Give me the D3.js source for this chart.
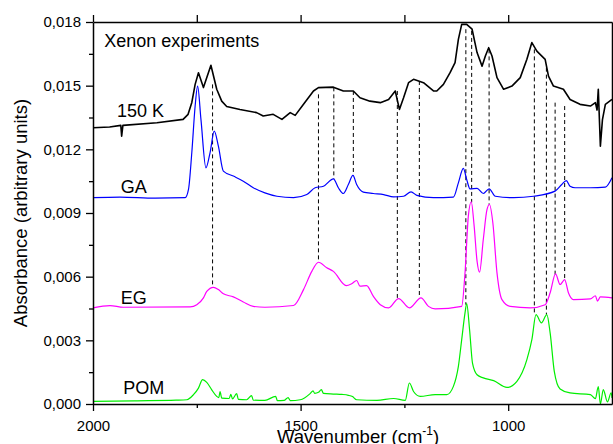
<!DOCTYPE html>
<html>
<head>
<meta charset="utf-8">
<script src="https://cdn.jsdelivr.net/npm/d3@7"></script>
<style>
  body { margin: 0; background: #fff; }
  svg { font-family: "Liberation Sans", Arial, sans-serif; }
</style>
</head>
<body>
<svg width="613" height="444"></svg>
<script>
// spectra: [wavenumber (cm-1), absorbance]
const spec150K = [[2000,0.01302],[1960,0.01305],[1933,0.01313],[1931,0.01262],[1928,0.01313],[1846,0.01325],[1783,0.01341],[1771,0.01365],[1762,0.01421],[1754,0.01506],[1746,0.01561],[1734,0.01491],[1716,0.01596],[1702,0.01483],[1690,0.01427],[1678,0.01402],[1646,0.01388],[1606,0.01373],[1590,0.01357],[1566,0.01365],[1545,0.01341],[1525,0.01373],[1513,0.0136],[1493,0.01412],[1469,0.01475],[1457,0.01491],[1421,0.01493],[1397,0.01475],[1373,0.01475],[1357,0.01443],[1333,0.01427],[1308,0.0142],[1288,0.01435],[1272,0.01475],[1262,0.01388],[1252,0.01443],[1240,0.01514],[1228,0.0153],[1204,0.01514],[1180,0.01475],[1172,0.01475],[1156,0.01506],[1140,0.01561],[1128,0.01609],[1120,0.01718],[1112,0.01789],[1100,0.01789],[1087,0.01766],[1075,0.01656],[1063,0.01592],[1055,0.0164],[1047,0.01679],[1039,0.0164],[1027,0.01538],[1011,0.01483],[991,0.01498],[971,0.01538],[955,0.01624],[943,0.01703],[931,0.01663],[911,0.01624],[903,0.01545],[891,0.01498],[867,0.01483],[851,0.01435],[827,0.01412],[802,0.01404],[790,0.0142],[786,0.01385],[783,0.01483],[778,0.01215],[773,0.0134],[766,0.01412],[750,0.01435]]

const specGA = [[2000,0.00972],[1935,0.00975],[1850,0.0097],[1778,0.00972],[1770,0.01011],[1762,0.01185],[1754,0.01404],[1748,0.01498],[1740,0.01341],[1728,0.01113],[1718,0.01185],[1708,0.01286],[1698,0.01215],[1686,0.01097],[1662,0.01074],[1638,0.0105],[1614,0.01019],[1586,0.00995],[1557,0.00979],[1517,0.00972],[1485,0.00987],[1465,0.01019],[1445,0.01026],[1421,0.01061],[1409,0.01019],[1397,0.00992],[1385,0.01034],[1374,0.01077],[1365,0.01034],[1349,0.00998],[1325,0.00992],[1300,0.00987],[1276,0.00976],[1252,0.00979],[1234,0.01],[1220,0.00983],[1180,0.00972],[1132,0.00975],[1120,0.01042],[1108,0.0111],[1100,0.01058],[1092,0.01014],[1075,0.01016],[1060,0.00992],[1046,0.01014],[1031,0.00979],[987,0.00972],[939,0.00979],[887,0.01003],[871,0.01034],[860,0.01053],[851,0.01026],[839,0.01019],[802,0.01019],[766,0.01022],[750,0.01066]]

const specEG = [[2000,0.00453],[1959,0.00464],[1927,0.00456],[1766,0.00458],[1750,0.00468],[1734,0.005],[1726,0.00531],[1710,0.0055],[1698,0.00539],[1686,0.00519],[1662,0.00505],[1638,0.00481],[1614,0.0046],[1586,0.00456],[1517,0.00464],[1493,0.00539],[1473,0.00625],[1457,0.00668],[1437,0.00642],[1421,0.00625],[1390,0.00558],[1377,0.00567],[1365,0.00582],[1357,0.00555],[1341,0.00558],[1325,0.00508],[1308,0.00468],[1288,0.00453],[1264,0.00497],[1238,0.00453],[1210,0.005],[1192,0.0046],[1176,0.00448],[1112,0.0046],[1104,0.00618],[1096,0.00885],[1089,0.00953],[1082,0.00838],[1075,0.00673],[1069,0.00621],[1060,0.00775],[1051,0.00917],[1045,0.0094],[1037,0.00854],[1027,0.00618],[1015,0.00492],[995,0.0046],[947,0.00453],[911,0.00468],[899,0.00524],[886,0.00613],[875,0.00563],[864,0.00586],[855,0.00524],[843,0.00492],[802,0.00495],[790,0.0051],[785,0.00485],[778,0.00505],[750,0.005]]

const specPOM = [[2000,0.00012],[1900,0.00015],[1800,0.00018],[1774,0.0002],[1758,0.00044],[1746,0.00075],[1736,0.00115],[1726,0.00102],[1714,0.00067],[1702,0.00036],[1697,0.0003],[1694,0.00058],[1690,0.00028],[1672,0.00026],[1668,0.00045],[1664,0.00024],[1654,0.00049],[1650,0.00022],[1630,0.0002],[1618,0.00039],[1614,0.00018],[1586,0.00017],[1560,0.00036],[1556,0.00016],[1540,0.00017],[1530,0.0003],[1525,0.00016],[1501,0.0002],[1477,0.00049],[1470,0.00062],[1466,0.0005],[1457,0.00055],[1450,0.00068],[1445,0.0005],[1421,0.00047],[1400,0.00045],[1385,0.00041],[1375,0.00035],[1365,0.0002],[1316,0.00017],[1276,0.00026],[1248,0.00017],[1238,0.00099],[1228,0.00059],[1212,0.00036],[1176,0.00044],[1148,0.00044],[1132,0.00083],[1120,0.00177],[1112,0.00303],[1104,0.00429],[1100,0.00473],[1093,0.0035],[1086,0.00193],[1075,0.00138],[1060,0.00123],[1035,0.0011],[1003,0.00078],[979,0.00107],[955,0.00209],[943,0.00303],[933,0.00421],[920,0.00382],[907,0.00421],[899,0.00335],[889,0.00154],[875,0.00071],[851,0.00052],[802,0.00044],[790,0.00025],[783,0.00082],[778,0.0],[771,0.00068],[761,0.0001],[752,0.00053],[750,0.00028]]

// dashed guide lines: position, top and bottom absorbance
const dashWn = [1712,1457,1420,1373,1267,1214,1102,1088,1046,937,908,887,864]
const dashTop = [0.01506,0.01459,0.01492,0.01475,0.01475,0.01522,0.01766,0.01758,0.01671,0.01671,0.01585,0.0142,0.01404]
const dashBottom = [0.0055,0.00668,0.01061,0.01077,0.005,0.005,0.00468,0.0095,0.0094,0.00431,0.00421,0.0061,0.00587]

const xMajor = [2000,1500,1000]
const xMinor = [1750,1250]
const yMajor = [0,0.003,0.006,0.009,0.012,0.015,0.018]
const yMinor = [0.0015,0.0045,0.0075,0.0105,0.0135,0.0165]

const series = [
  {name: "150 K", data: spec150K, color: "#000000", width: 1.6, curve: d3.curveLinear, lx: 1942, ly: 0.01354},
  {name: "GA", data: specGA, color: "#0000ff", width: 1.2, curve: d3.curveMonotoneX, lx: 1933, ly: 0.00995},
  {name: "EG", data: specEG, color: "#ff00ff", width: 1.2, curve: d3.curveMonotoneX, lx: 1933, ly: 0.00472},
  {name: "POM", data: specPOM, color: "#00ee00", width: 1.2, curve: d3.curveMonotoneX, lx: 1927, ly: 0.00047}
]

// chart box
const boxLeft = 93, boxRight = 612, boxTop = 22, boxBottom = 404

const svg = d3.select("svg")

const x = d3.scaleLinear().domain([2000, 750]).range([boxLeft, boxRight])
const y = d3.scaleLinear().domain([0, 0.018]).range([boxBottom, boxTop])

const locale = d3.formatLocale({decimal: ",", thousands: ".", grouping: [3], currency: ["", ""]})
const fmt = locale.format(".3f")

// dashed lines behind the spectra
svg.append("g")
  .selectAll("line")
  .data(dashWn)
  .enter()
  .append("line")
    .attr("x1", d => x(d))
    .attr("x2", d => x(d))
    .attr("y1", (d, i) => y(dashTop[i]))
    .attr("y2", (d, i) => y(dashBottom[i]))
    .attr("stroke", "#000")
    .attr("stroke-width", 1)
    .attr("stroke-dasharray", "4,3")

// spectra
series.forEach(s => {
  const line = d3.line()
    .x(d => x(d[0]))
    .y(d => y(d[1]))
    .curve(s.curve)

  svg.append("path")
    .datum(s.data)
    .attr("d", line)
    .attr("fill", "none")
    .attr("stroke", s.color)
    .attr("stroke-width", s.width)
    .attr("stroke-linejoin", "round")

  svg.append("text")
    .attr("x", x(s.lx))
    .attr("y", y(s.ly))
    .attr("font-size", 18)
    .text(s.name)
})

svg.append("text")
  .attr("x", x(1973))
  .attr("y", y(0.01682))
  .attr("font-size", 18)
  .text("Xenon experiments")

// axes
function styleAxis(g) {
  g.select(".domain").attr("stroke-width", 1.5)
  g.selectAll(".tick line").attr("stroke-width", 1.3)
  g.selectAll(".tick text").attr("font-size", 15).attr("fill", "#000")
    .attr("font-family", "'Liberation Sans', Arial, sans-serif")
}

svg.append("g")
  .attr("transform", "translate(0," + boxBottom + ")")
  .call(d3.axisBottom(x).tickValues(xMajor).tickSize(7).tickSizeOuter(0).tickPadding(9).tickFormat(d3.format("d")))
  .call(styleAxis)

svg.append("g")
  .attr("transform", "translate(0," + boxBottom + ")")
  .call(d3.axisBottom(x).tickValues(xMinor).tickSize(4).tickFormat(""))
  .call(g => g.select(".domain").remove())
  .call(styleAxis)

svg.append("g")
  .attr("transform", "translate(0," + boxTop + ")")
  .call(d3.axisTop(x).tickValues(xMajor.concat(xMinor)).tickSize(7).tickSizeOuter(0).tickFormat(""))
  .call(styleAxis)

svg.append("g")
  .attr("transform", "translate(" + boxLeft + ",0)")
  .call(d3.axisLeft(y).tickValues(yMajor).tickSize(7).tickSizeOuter(0).tickPadding(5).tickFormat(fmt))
  .call(styleAxis)

svg.append("g")
  .attr("transform", "translate(" + boxLeft + ",0)")
  .call(d3.axisLeft(y).tickValues(yMinor).tickSize(4).tickFormat(""))
  .call(g => g.select(".domain").remove())
  .call(styleAxis)

svg.append("g")
  .attr("transform", "translate(" + boxRight + ",0)")
  .call(d3.axisRight(y).tickValues([]).tickSizeOuter(0))
  .call(styleAxis)

// axis titles
svg.append("text")
  .attr("transform", "translate(27," + ((boxTop + boxBottom) / 2) + ") rotate(-90)")
  .attr("text-anchor", "middle")
  .attr("font-size", 18.5)
  .text("Absorbance (arbitrary units)")

const xt = svg.append("text")
  .attr("x", 277)
  .attr("y", 443)
  .attr("font-size", 18.5)
xt.append("tspan").text("Wavenumber (cm")
xt.append("tspan").attr("font-size", 12).attr("dy", -8).text("-1")
xt.append("tspan").attr("dy", 8).text(")")
</script>
</body>
</html>
